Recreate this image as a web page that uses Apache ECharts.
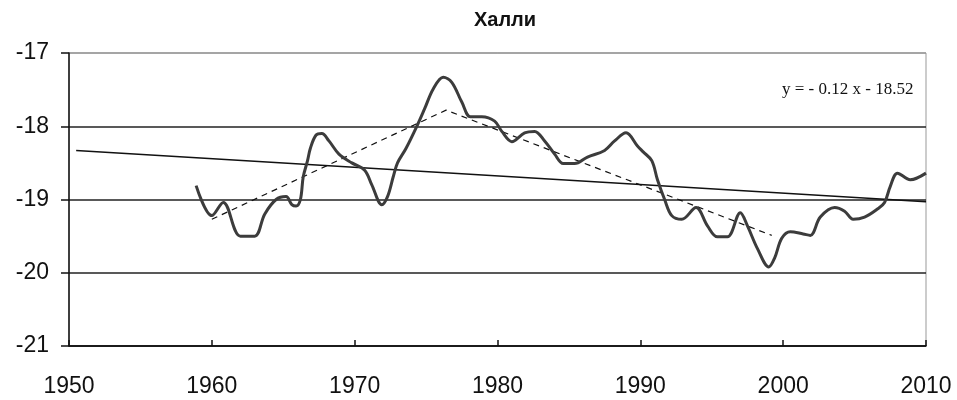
<!DOCTYPE html>
<html>
<head>
<meta charset="utf-8">
<script src="https://cdn.jsdelivr.net/npm/echarts@6/dist/echarts.min.js"></script>
<style>
html,body{margin:0;padding:0;background:#fff;}
#chart{width:957px;height:400px;}
</style>
</head>
<body>
<div id="chart"></div>
<script>
// ---- Data ----
const titleText = "Халли";
const equationText = "y = - 0.12 x - 18.52";
const xTicks = [1950, 1960, 1970, 1980, 1990, 2000, 2010];
const yTicks = [-21, -20, -19, -18, -17];

const curveYears = [
  1958.9, 1960.0, 1960.8, 1962.0, 1963.0, 1963.7, 1964.5, 1965.2, 1965.6, 1965.9,
  1966.2, 1966.4, 1966.7, 1966.9, 1967.3, 1967.7, 1968.2, 1968.9, 1969.8, 1970.7,
  1971.2, 1971.9, 1972.3, 1972.7, 1973.0, 1973.6, 1974.4, 1974.9, 1975.5, 1976.2,
  1976.8, 1977.5, 1978.1, 1978.9, 1979.8, 1980.3, 1981.0, 1981.9, 1982.6, 1983.3,
  1984.0, 1984.6, 1985.4, 1986.3, 1987.5, 1988.2, 1989.0, 1989.8, 1990.2, 1990.8,
  1991.2, 1991.7, 1992.2, 1992.9, 1993.9, 1994.7, 1995.4, 1996.1, 1997.0, 1997.5,
  1998.2, 1999.0, 1999.4, 1999.9, 2000.5, 2001.4, 2001.9, 2002.6, 2003.6, 2004.3,
  2004.9, 2005.7, 2006.6, 2007.1, 2007.5, 2008.0, 2008.9, 2010.0
];
const curveValues = [
  -18.81, -19.22, -19.04, -19.50, -19.50, -19.20, -19.00, -18.96, -19.07, -19.09,
  -19.00, -18.69, -18.47, -18.30, -18.12, -18.10, -18.20, -18.38, -18.50, -18.60,
  -18.80, -19.07, -18.96, -18.69, -18.50, -18.30, -17.98, -17.76, -17.49, -17.33,
  -17.40, -17.67, -17.87, -17.87, -17.93, -18.07, -18.21, -18.09, -18.07, -18.20,
  -18.38, -18.51, -18.51, -18.42, -18.33, -18.20, -18.09, -18.27, -18.35, -18.47,
  -18.73, -19.00, -19.22, -19.27, -19.11, -19.36, -19.51, -19.51, -19.18, -19.36,
  -19.67, -19.92, -19.80, -19.53, -19.44, -19.47, -19.49, -19.24, -19.11, -19.16,
  -19.27, -19.24, -19.13, -19.04, -18.82, -18.64, -18.73, -18.64
];

const dashYears = [1960.0, 1976.4, 1999.2];
const dashValues = [-19.27, -17.78, -19.49];

const trendYears = [1950.5, 2010];
const trendValues = [-18.33, -19.03];

function zip(a, b) { return a.map((v, i) => [v, b[i]]); }

const chart = echarts.init(document.getElementById('chart'), null, {renderer: 'canvas'});
chart.setOption({
  animation: false,
  backgroundColor: '#fff',
  title: [
    {
      text: titleText,
      left: 500, top: 5, textAlign: 'center',
      textStyle: {fontFamily: 'Liberation Sans, Arial, sans-serif', fontSize: 20, fontWeight: 'bold', color: '#111'}
    },
    {
      text: equationText,
      left: 777, top: 76,
      textStyle: {fontFamily: 'Liberation Serif, Times New Roman, serif', fontSize: 17, fontWeight: 'normal', color: '#111'}
    }
  ],
  grid: {
    left: 69, right: 31, top: 53, bottom: 54,
    show: true, borderColor: '#999', borderWidth: 1, backgroundColor: 'transparent'
  },
  xAxis: {
    type: 'value', min: xTicks[0], max: xTicks[xTicks.length - 1], interval: 10,
    axisLine: {show: true, lineStyle: {color: '#111', width: 1.5}},
    axisTick: {show: true, inside: true, length: 6, lineStyle: {color: '#111', width: 1.5}},
    axisLabel: {margin: 29, color: '#111', fontSize: 23, fontFamily: 'Liberation Sans, Arial, sans-serif',
      formatter: v => String(v)},
    splitLine: {show: false}
  },
  yAxis: {
    type: 'value', min: yTicks[0], max: yTicks[yTicks.length - 1], interval: 1,
    axisLine: {show: true, onZero: false, lineStyle: {color: '#111', width: 1.5}},
    axisTick: {show: true, inside: false, length: 8, lineStyle: {color: '#111', width: 1.5}},
    axisLabel: {margin: 20, color: '#111', fontSize: 23, fontFamily: 'Liberation Sans, Arial, sans-serif',
      formatter: v => String(v)},
    splitLine: {show: true, lineStyle: {color: ['#111', '#222', '#222', '#222', '#999'], width: 1.5}}
  },
  series: [
    {
      type: 'line', data: zip(trendYears, trendValues), showSymbol: false, symbol: 'none',
      lineStyle: {color: '#111', width: 1.5}, z: 3
    },
    {
      type: 'line', data: zip(dashYears, dashValues), showSymbol: false, symbol: 'none',
      lineStyle: {color: '#111', width: 1.2, type: [6, 5]}, z: 3
    },
    {
      type: 'line', data: zip(curveYears, curveValues), showSymbol: false, symbol: 'none',
      smooth: 0.35,
      lineStyle: {color: '#3c3c3c', width: 3}, z: 4
    }
  ]
});
</script>
</body>
</html>
